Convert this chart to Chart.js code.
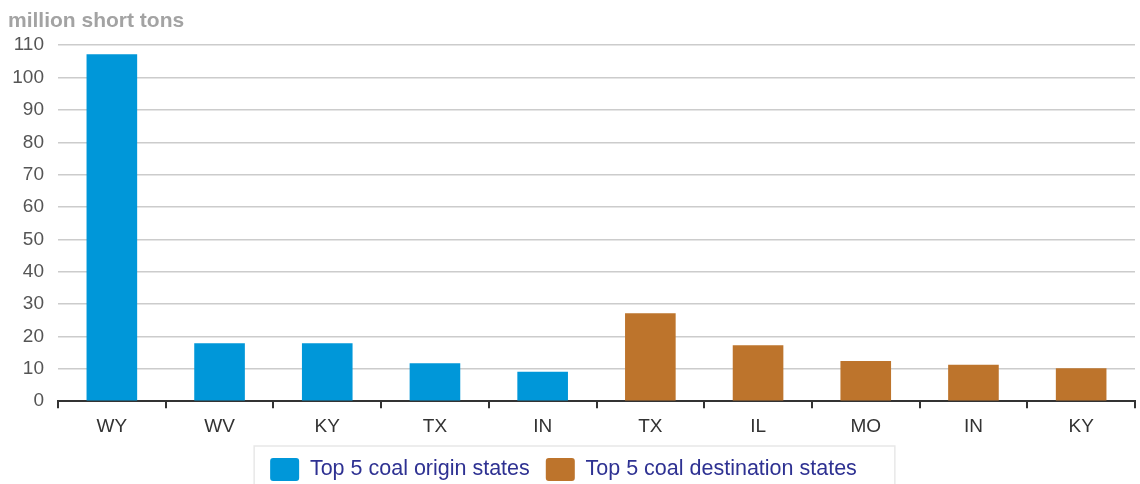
<!DOCTYPE html>
<html>
<head>
<meta charset="utf-8">
<script src="https://cdn.jsdelivr.net/npm/chart.js@4/dist/chart.umd.min.js"></script>
<style>
  html, body { margin: 0; padding: 0; background: #fff; }
  #wrap { width: 1140px; height: 484px; }
</style>
</head>
<body>
<div id="wrap"><canvas id="chart"></canvas></div>
<script>
// states, origin block first then destination block
var states = ['WY', 'WV', 'KY', 'TX', 'IN', 'TX', 'IL', 'MO', 'IN', 'KY'];
var originTons = [107.2, 17.9, 17.9, 11.7, 9.1, null, null, null, null, null];
var destTons = [null, null, null, null, null, 27.2, 17.3, 12.4, 11.3, 10.2];
var seriesNames = ['Top 5 coal origin states', 'Top 5 coal destination states'];
var yTicks = [0, 10, 20, 30, 40, 50, 60, 70, 80, 90, 100, 110];

Chart.defaults.font.family = '"Liberation Sans", Arial, sans-serif';

// legend sits a bit left of centre in the original, with a grey frame round it
var legendFrame = {
    id: 'legendFrame',
    afterLayout: function(chart) {
        chart.legend.left -= 8;
        chart.legend.right -= 8;
        chart.legend.top -= 3;
        chart.legend.bottom -= 3;
    },
    afterDraw: function(chart) {
        var boxes = chart.legend.legendHitBoxes;
        if (!boxes || !boxes.length) return;
        var l = Math.min.apply(null, boxes.map(function(b) { return b.left; }));
        var r = Math.max.apply(null, boxes.map(function(b) { return b.left + b.width; }));
        var t = Math.min.apply(null, boxes.map(function(b) { return b.top; }));
        var ctx = chart.ctx;
        ctx.save();
        ctx.strokeStyle = '#e8e8e8';
        ctx.lineWidth = 1.5;
        ctx.strokeRect(l - 16, t - 12, (r - l) + 54, 60);
        ctx.restore();
    }
};

new Chart(document.getElementById('chart'), {
    type: 'bar',
    data: {
        labels: states,
        datasets: [
            { label: seriesNames[0], data: originTons, backgroundColor: '#0097d9', borderColor: '#0097d9' },
            { label: seriesNames[1], data: destTons, backgroundColor: '#bd742c', borderColor: '#bd742c' }
        ]
    },
    options: {
        responsive: true,
        maintainAspectRatio: false,
        animation: false,
        devicePixelRatio: 1,
        layout: { padding: { left: 8, right: 5, top: 0, bottom: -10 } },
        datasets: { bar: { grouped: false, categoryPercentage: 1, barPercentage: 0.47 } },
        plugins: {
            title: {
                display: true,
                text: 'million short tons',
                align: 'start',
                color: '#a3a3a3',
                font: { size: 21, weight: 'bold' },
                padding: { top: 9, bottom: 11 }
            },
            legend: {
                position: 'bottom',
                labels: {
                    boxWidth: 29,
                    boxHeight: 23,
                    useBorderRadius: true,
                    borderRadius: 3,
                    color: '#2e3192',
                    font: { size: 21.5 },
                    padding: 16
                }
            },
            tooltip: { enabled: false }
        },
        scales: {
            x: {
                grid: { drawOnChartArea: false, drawTicks: true, tickLength: 7, color: '#333', lineWidth: 2 },
                border: { display: true, color: '#333', width: 2 },
                ticks: { color: '#333', font: { size: 19 }, padding: 7 }
            },
            y: {
                min: 0,
                max: 110,
                afterBuildTicks: function(scale) {
                    scale.ticks = yTicks.map(function(v) { return { value: v }; });
                },
                afterFit: function(scale) { scale.width = 50; },
                grid: { color: '#cccccc', lineWidth: 1.5, drawTicks: false },
                border: { display: false },
                ticks: { color: '#555', font: { size: 19 }, padding: 14 }
            }
        }
    },
    plugins: [legendFrame]
});
</script>
</body>
</html>
